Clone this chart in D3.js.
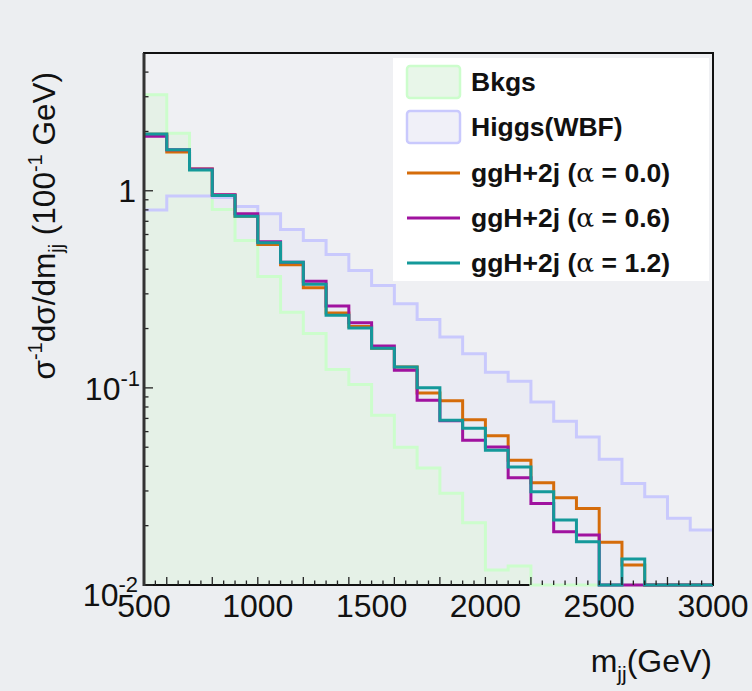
<!DOCTYPE html>
<html><head><meta charset="utf-8">
<script src="https://cdn.jsdelivr.net/npm/d3@7"></script>
<style>body{margin:0;background:#eceef1} svg{display:block}</style>
</head><body><svg id="c" width="752" height="691"></svg>
<script>
// ---- data ----
const binEdges = [500,600,700,800,900,1000,1100,1200,1300,1400,1500,1600,1700,1800,1900,2000,2100,2200,2300,2400,2500,2600,2700,2800,2900,3000];
const bkgs     = [3.07,1.96,1.28,0.803,0.56,0.367,0.242,0.189,0.124,0.104,0.0726,0.050,0.0392,0.0292,0.0207,0.0119,0.0125,0,0,0,0,0,0,0,0];
const higgsWBF = [0.800,0.942,0.942,0.924,0.832,0.764,0.636,0.560,0.475,0.394,0.331,0.267,0.222,0.181,0.149,0.120,0.108,0.0848,0.0677,0.0564,0.0435,0.0327,0.0280,0.0218,0.0190];
const ggH00    = [1.937,1.574,1.288,0.951,0.743,0.534,0.421,0.322,0.2395,0.205,0.159,0.1276,0.0942,0.0860,0.0689,0.0571,0.0430,0.0330,0.0277,0.02446,0.01646,0.01263,0,0,0];
const ggH06    = [1.889,1.617,1.291,0.956,0.764,0.551,0.434,0.3476,0.260,0.2142,0.163,0.1228,0.0865,0.0681,0.0543,0.0502,0.0350,0.02594,0.01862,0.01792,0,0,0,0,0];
const ggH12    = [1.942,1.617,1.276,0.946,0.743,0.545,0.434,0.336,0.2333,0.2011,0.159,0.1276,0.1001,0.0685,0.0624,0.0483,0.0397,0.0297,0.02134,0.01657,0,0.01354,0,0,0];
const xTickValues = [500,1000,1500,2000,2500,3000];
const xTickLabels = ["500","1000","1500","2000","2500","3000"];
const yDomain = [0.01, 5];
const seriesNames = ["Bkgs","Higgs(WBF)","ggH+2j (α = 0.0)","ggH+2j (α = 0.6)","ggH+2j (α = 1.2)"];

// ---- layout ----
const L = 144, R = 713, T = 53, B = 585;
const svg = d3.select("#c");
const FONT = "'Liberation Sans', Arial, Helvetica, sans-serif";
svg.append("rect").attr("width",752).attr("height",691).attr("fill","#eceef1");

const x = d3.scaleLinear().domain([500,3000]).range([L,R]);
const y = d3.scaleLog().domain(yDomain).range([B,T]).clamp(true);
const yv = v => y(Math.max(v, yDomain[0]));

// plot background
svg.append("rect").attr("x",L).attr("y",T).attr("width",R-L).attr("height",B-T).attr("fill","#eff0f3");

svg.append("defs").append("clipPath").attr("id","clip")
  .append("rect").attr("x",L).attr("y",T).attr("width",R-L+2).attr("height",B-T+3);
const g = svg.append("g").attr("clip-path","url(#clip)");

function stepPts(vals){
  const pts=[];
  vals.forEach((v,i)=>{ pts.push([x(binEdges[i]), yv(v)]); pts.push([x(binEdges[i+1]), yv(v)]); });
  return pts;
}
const line = d3.line();
const area = d3.area().x(d=>d[0]).y0(B).y1(d=>d[1]);

g.append("path").attr("d", area(stepPts(higgsWBF))).attr("fill","#eaebf3");
g.append("path").attr("d", area(stepPts(bkgs))).attr("fill","#e5f1e7");

// frame (under the histogram lines at the bottom)
svg.append("rect").attr("x",L).attr("y",T).attr("width",R-L).attr("height",B-T)
  .attr("fill","none").attr("stroke","#111").attr("stroke-width",2);

const g2 = svg.append("g").attr("clip-path","url(#clip)");
g2.append("path").attr("d", line(stepPts(bkgs))).attr("fill","none").attr("stroke","#ccfdcc").attr("stroke-width",3);
g2.append("path").attr("d", line(stepPts(higgsWBF))).attr("fill","none").attr("stroke","#c9c9fd").attr("stroke-width",3);

const lineSeries = [[ggH00,"#d56c0a"],[ggH06,"#a0129f"],[ggH12,"#14999a"]];
lineSeries.forEach(([vals,col])=>{
  g2.append("path").attr("d", line(stepPts(vals))).attr("fill","none").attr("stroke",col).attr("stroke-width",3);
});

// ---- axes ticks ----
const ax = svg.append("g").attr("stroke","#222").attr("stroke-width",1.3);
for (let v=550; v<3000; v+=50){
  const long = (v % 200) === 0;
  ax.append("line").attr("x1",x(v)).attr("x2",x(v)).attr("y1",B).attr("y2",B-(long?8:4.5));
}
const yMinor=[];
[0.01,0.1,1].forEach(d=>{ for(let k=1;k<10;k++){ const v=d*k; if(v>=yDomain[0] && v<=yDomain[1]) yMinor.push(v);} });
yMinor.forEach(v=>{
  const major = Math.abs(Math.log10(v)-Math.round(Math.log10(v)))<1e-9;
  ax.append("line").attr("x1",L).attr("x2",L+(major?9:4.5)).attr("y1",y(v)).attr("y2",y(v));
});
svg.append("line").attr("x1",L).attr("x2",L).attr("y1",T).attr("y2",B+1).attr("stroke","#333").attr("stroke-width",3);
svg.append("line").attr("x1",L).attr("x2",R+1).attr("y1",T).attr("y2",T).attr("stroke","#111").attr("stroke-width",2);
svg.append("line").attr("x1",R).attr("x2",R).attr("y1",T).attr("y2",B).attr("stroke","#111").attr("stroke-width",2);

// x tick labels
svg.append("g").selectAll("text").data(xTickValues).join("text")
  .attr("x",d=>x(d)).attr("y",617).attr("text-anchor","middle")
  .attr("font-family",FONT).attr("font-size",32).attr("fill","#111")
  .text((d,i)=>xTickLabels[i]);

// y tick labels
function yLabel(base, exp, xr, yb){
  const t = svg.append("text").attr("x",xr).attr("y",yb).attr("text-anchor","end")
    .attr("font-family",FONT).attr("font-size",32).attr("fill","#111");
  t.append("tspan").text(base);
  if (exp) t.append("tspan").attr("font-size",22).attr("dy",-14).text(exp);
}
yLabel("1", null, 136, 202);
yLabel("10", "-1", 140, 400);
yLabel("10", "-2", 138, 606);

// axis titles
const xt = svg.append("text").attr("x",712).attr("y",672).attr("text-anchor","end")
  .attr("font-family",FONT).attr("font-size",32).attr("fill","#111");
xt.append("tspan").text("m");
xt.append("tspan").attr("font-size",21).attr("dy",9).text("jj");
xt.append("tspan").attr("dy",-9).text("(GeV)");

const yt = svg.append("text").attr("transform","translate(55,72) rotate(-90)").attr("text-anchor","end")
  .attr("font-family",FONT).attr("font-size",31.5).attr("fill","#111");
yt.append("tspan").text("σ");
yt.append("tspan").attr("font-size",20).attr("dy",-13).text("-1");
yt.append("tspan").attr("dy",13).text("dσ/dm");
yt.append("tspan").attr("font-size",20).attr("dy",8).text("jj");
yt.append("tspan").attr("dy",-8).text(" (100");
yt.append("tspan").attr("font-size",20).attr("dy",-13).text("-1");
yt.append("tspan").attr("dy",13).text(" GeV)");

// ---- legend ----
const lg = svg.append("g");
lg.append("rect").attr("x",393).attr("y",58).attr("width",316).attr("height",223).attr("fill","#ffffff");
const rowY = [82,127,173,218,263];
lg.append("rect").attr("x",407).attr("y",66).attr("width",53).attr("height",32).attr("rx",3)
  .attr("fill","#e8f6e9").attr("stroke","#ccfdcc").attr("stroke-width",2.5);
lg.append("rect").attr("x",407).attr("y",111).attr("width",53).attr("height",32).attr("rx",3)
  .attr("fill","#f0f0f8").attr("stroke","#c9c9fd").attr("stroke-width",2.5);
lineSeries.forEach(([vals,col],i)=>{
  lg.append("line").attr("x1",407).attr("x2",460).attr("y1",rowY[i+2]).attr("y2",rowY[i+2])
    .attr("stroke",col).attr("stroke-width",3);
});
seriesNames.forEach((name,i)=>{
  const t = lg.append("text").attr("x",471).attr("y",rowY[i]+9)
    .attr("font-family",FONT).attr("font-size",26.5).attr("font-weight","bold").attr("fill","#111");
  const parts = name.split("α");
  t.append("tspan").text(parts[0]);
  if (parts.length>1){
    t.append("tspan").attr("font-weight","normal").attr("font-family","'DejaVu Serif', serif").text("α");
    t.append("tspan").text(parts[1]);
  }
});
</script>
</body></html>
